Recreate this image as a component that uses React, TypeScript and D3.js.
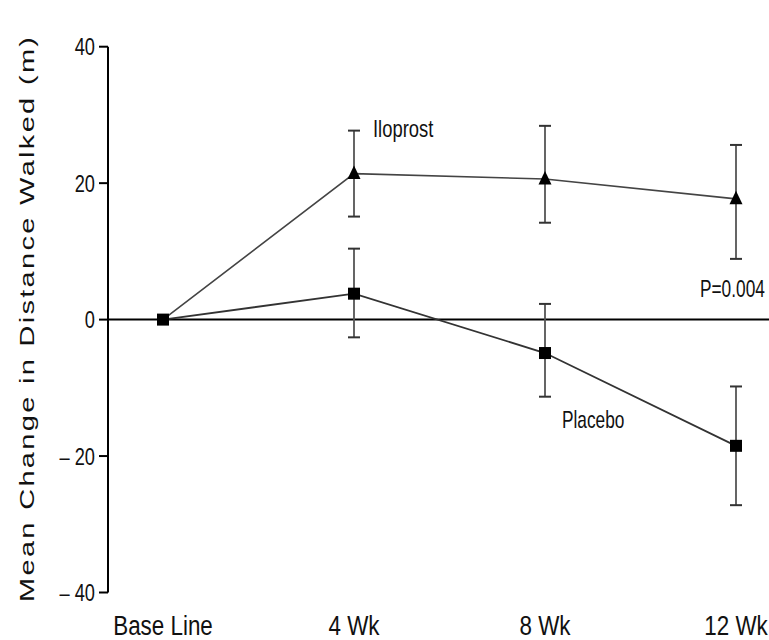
import React from "react";
import * as d3 from "d3";

// time points on the x axis
const timePoints = ["Base Line", "4 Wk", "8 Wk", "12 Wk"];
const yTicks = [40, 20, 0, -20, -40];

// Iloprost: mean and error bar ends
const iloprostMean = [0, 21.4, 20.6, 17.7];
const iloprostHigh = [null, 27.7, 28.4, 25.6];
const iloprostLow = [null, 15.1, 14.2, 8.9];

// Placebo: mean and error bar ends
const placeboMean = [0, 3.8, -4.9, -18.5];
const placeboHigh = [null, 10.4, 2.3, -9.8];
const placeboLow = [null, -2.6, -11.3, -27.2];

const W = 769;
const H = 640;
const sans = "'Liberation Sans', Arial, Helvetica, sans-serif";

const x = d3.scalePoint<string>().domain(timePoints).range([163, 736]);
const y = d3.scaleLinear().domain([-40, 40]).range([592.5, 46.7]);

const line = d3
  .line<number>()
  .x((d, i) => x(timePoints[i]) as number)
  .y((d) => y(d));

// the original is squeezed horizontally, so squeeze the text the same way
const NarrowText = ({ x, y, size, anchor = "start", sx = 0.76, children }: any) => (
  <text
    transform={`translate(${x},${y}) scale(${sx},1)`}
    textAnchor={anchor}
    fontFamily={sans}
    fontSize={size}
    fill="#111"
  >
    {children}
  </text>
);

const ErrorBars = ({ high, low }: { high: (number | null)[]; low: (number | null)[] }) => (
  <g>
    {timePoints.map((t, i) => {
      const hi = high[i];
      const lo = low[i];
      if (hi == null || lo == null) return null;
      const cx = x(t) as number;
      return (
        <g key={t}>
          <line x1={cx} x2={cx} y1={y(hi)} y2={y(lo)} stroke="#555" strokeWidth={1.8} />
          <line x1={cx - 6} x2={cx + 6} y1={y(hi)} y2={y(hi)} stroke="#333" strokeWidth={2} />
          <line x1={cx - 6} x2={cx + 6} y1={y(lo)} y2={y(lo)} stroke="#333" strokeWidth={2} />
        </g>
      );
    })}
  </g>
);

export default function App() {
  const axisX = 108;
  return (
    <svg
      width={W}
      height={H}
      style={{ position: "absolute", left: 0, top: 0, background: "#fff" }}
    >
      {/* y axis */}
      <line x1={axisX} x2={axisX} y1={y(40)} y2={y(-40)} stroke="#000" strokeWidth={2} />
      {yTicks.map((t) => (
        <g key={t}>
          <line x1={axisX - 9} x2={axisX} y1={y(t)} y2={y(t)} stroke="#000" strokeWidth={2} />
          <NarrowText x={axisX - 13} y={y(t) + 8.5} size={24} anchor="end">
            {t < 0 ? `\u2013 ${Math.abs(t)}` : t}
          </NarrowText>
        </g>
      ))}
      {/* zero line */}
      <line x1={axisX} x2={W} y1={y(0)} y2={y(0)} stroke="#000" strokeWidth={2} />

      <text
        transform={`translate(34,${(37 + 602) / 2}) scale(0.7,1) rotate(-90)`}
        textAnchor="middle"
        fontFamily={sans}
        fontSize={29}
        textLength={565}
        lengthAdjust="spacing"
        fill="#111"
      >
        Mean Change in Distance Walked (m)
      </text>

      {/* x labels */}
      {timePoints.map((t) => (
        <NarrowText key={t} x={x(t)} y={635} size={28} anchor="middle" sx={0.8}>
          {t}
        </NarrowText>
      ))}

      <ErrorBars high={iloprostHigh} low={iloprostLow} />
      <ErrorBars high={placeboHigh} low={placeboLow} />

      <path d={line(iloprostMean) || ""} fill="none" stroke="#444" strokeWidth={1.6} />
      <path d={line(placeboMean) || ""} fill="none" stroke="#333" strokeWidth={1.8} />

      {iloprostMean.map((v, i) =>
        i === 0 ? null : (
          <path
            key={i}
            transform={`translate(${x(timePoints[i])},${y(v)})`}
            d="M0,-8 L6.5,5.5 L-6.5,5.5 Z"
            fill="#000"
          />
        )
      )}
      {placeboMean.map((v, i) => (
        <rect
          key={i}
          x={(x(timePoints[i]) as number) - 6}
          y={y(v) - 6}
          width={12}
          height={12}
          fill="#000"
        />
      ))}

      <NarrowText x={373} y={137} size={23} sx={0.8}>
        Iloprost
      </NarrowText>
      <NarrowText x={562} y={428} size={24} sx={0.72}>
        Placebo
      </NarrowText>
      <NarrowText x={700} y={297} size={24} sx={0.72}>
        P=0.004
      </NarrowText>
    </svg>
  );
}
